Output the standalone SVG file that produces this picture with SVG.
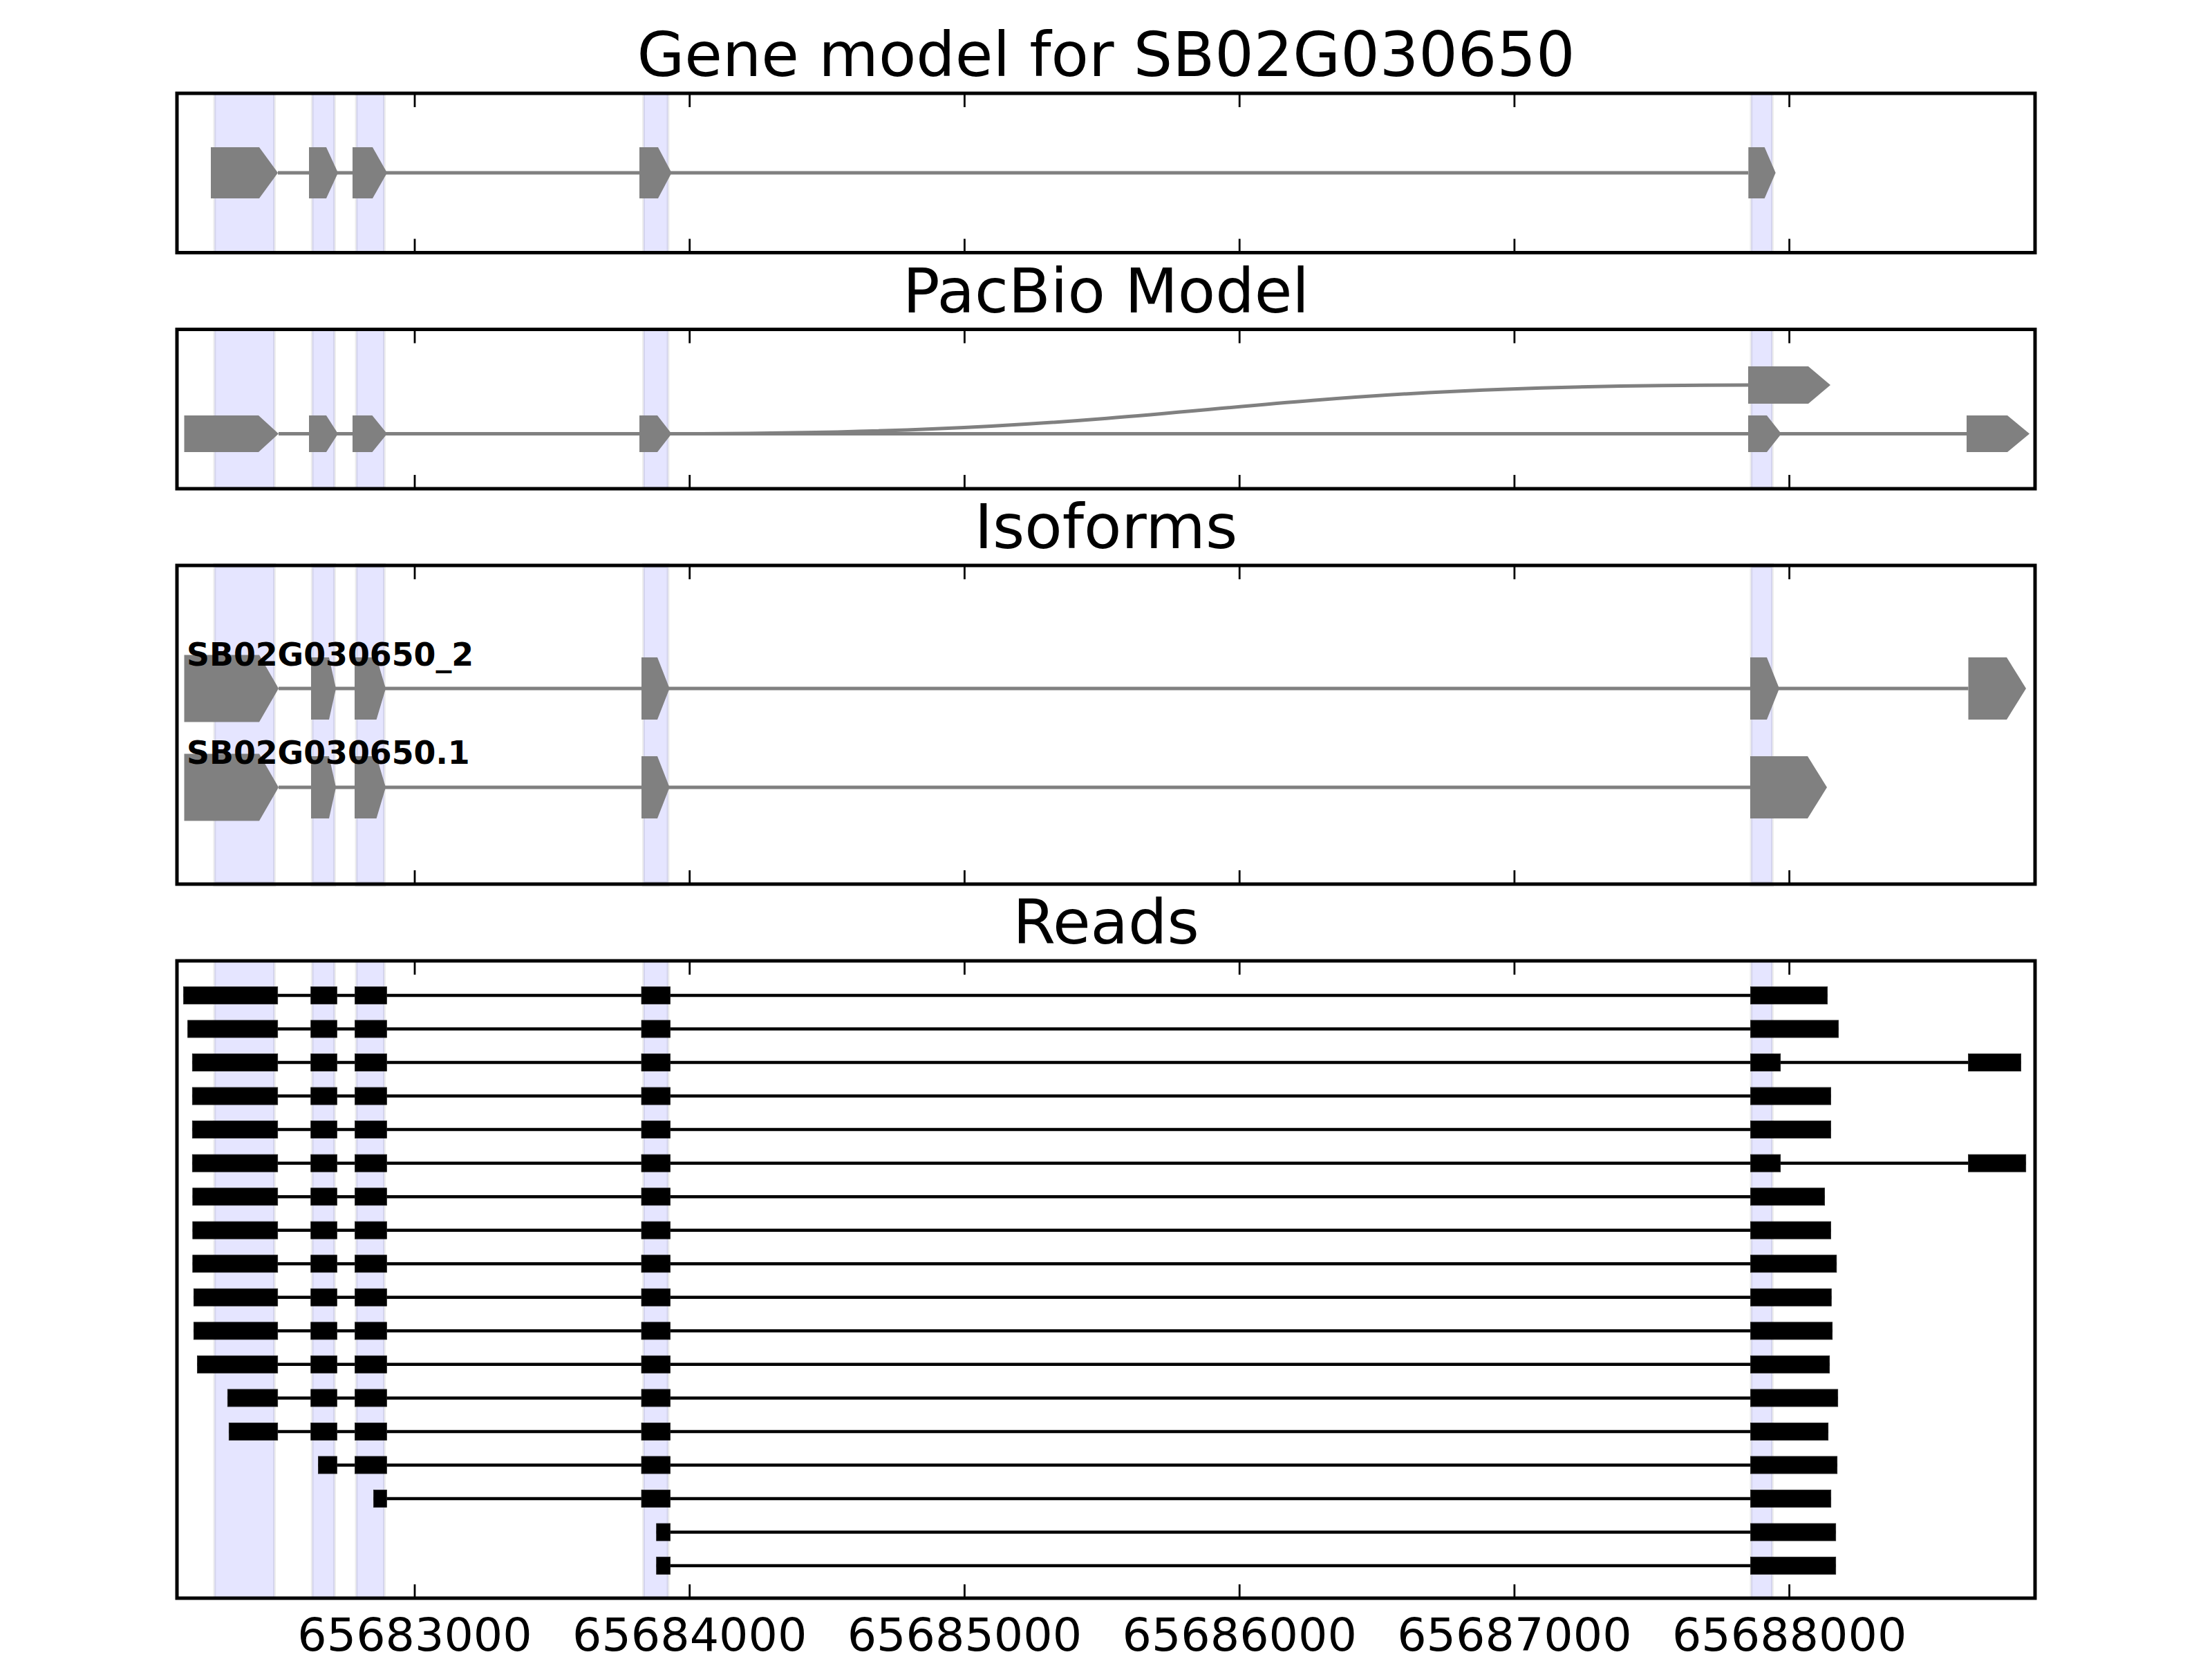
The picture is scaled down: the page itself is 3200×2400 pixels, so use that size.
<svg xmlns="http://www.w3.org/2000/svg" width="3200" height="2400" viewBox="0 0 3200 2400">
<style>
.bg{fill:#ffffff}
.band{fill:#e5e5ff;stroke:#000000;stroke-opacity:0.07;stroke-width:4}
.exon{fill:#808080;stroke:none}
.intron{stroke:#808080;stroke-width:5;fill:none}
.rb{fill:#000000;stroke:#222;stroke-width:0.8}
.rl{stroke:#000000;stroke-width:4.5;fill:none}
.frame{fill:none;stroke:#000000;stroke-width:5}
.tick{stroke:#000000;stroke-width:2.8}
.title{font-family:"DejaVu Sans","Liberation Sans",sans-serif;font-size:88.9px;text-anchor:middle;fill:#000}
.tl{font-family:"DejaVu Sans","Liberation Sans",sans-serif;font-size:66.7px;text-anchor:middle;fill:#000}
.iso{font-family:"DejaVu Sans","Liberation Sans",sans-serif;font-size:45.8px;font-weight:bold;fill:#000}
</style>
<defs>
<g id="bandsP1">
<rect class="band" x="310.4" y="135" width="86.6" height="230.5"/>
<rect class="band" x="451.7" y="135" width="32.3" height="230.5"/>
<rect class="band" x="515.5" y="135" width="40.5" height="230.5"/>
<rect class="band" x="931" y="135" width="35.5" height="230.5"/>
<rect class="band" x="2533.3" y="135" width="30.7" height="230.5"/>
</g>
<g id="ticksV">
<line x1="600" y1="0" x2="600" y2="20"/>
<line x1="997.7" y1="0" x2="997.7" y2="20"/>
<line x1="1395.4" y1="0" x2="1395.4" y2="20"/>
<line x1="1793.2" y1="0" x2="1793.2" y2="20"/>
<line x1="2190.9" y1="0" x2="2190.9" y2="20"/>
<line x1="2588.6" y1="0" x2="2588.6" y2="20"/>
</g>
</defs>
<rect class="bg" x="0" y="0" width="3200" height="2400"/>

<!-- Panel 1: Gene model -->
<g id="panel-gene-model">
<text class="title" x="1600" y="110">Gene model for SB02G030650</text>
<use href="#bandsP1"/>
<g id="gene-model-connectors">
<line class="intron" x1="402" y1="250" x2="2529" y2="250"/>
</g>
<g id="gene-model-exons">
<polygon class="exon" points="305,213 375,213 402,250 375,287 305,287"/>
<polygon class="exon" points="447,213 472,213 489,250 472,287 447,287"/>
<polygon class="exon" points="510,213 539,213 560,250 539,287 510,287"/>
<polygon class="exon" points="925,213 952,213 971.6,250 952,287 925,287"/>
<polygon class="exon" points="2529.3,213 2552.7,213 2568.7,250 2552.7,287 2529.3,287"/>
</g>
<rect class="frame" x="256" y="135" width="2688" height="230.5"/>
<g class="tick" transform="translate(0,135)"><use href="#ticksV"/></g>
<g class="tick" transform="translate(0,365.5) scale(1,-1)"><use href="#ticksV"/></g>
</g>

<!-- Panel 2: PacBio Model -->
<g id="panel-pacbio">
<text class="title" x="1600" y="452">PacBio Model</text>
<g transform="translate(0,341.5)"><use href="#bandsP1"/></g>
<g id="pacbio-connectors">
<line class="intron" x1="403" y1="627.5" x2="2845" y2="627.5"/>
<path class="intron" d="M971.6,627.5 C1750,627.5 1750,557 2529,557"/>
</g>
<g id="pacbio-exons">
<polygon class="exon" points="266.5,601 374,601 403,627.5 374,654 266.5,654"/>
<polygon class="exon" points="447,601 472,601 489,627.5 472,654 447,654"/>
<polygon class="exon" points="510,601 538.5,601 560,627.5 538.5,654 510,654"/>
<polygon class="exon" points="925,601 951,601 971.6,627.5 951,654 925,654"/>
<polygon class="exon" points="2529,601 2556,601 2577,627.5 2556,654 2529,654"/>
<polygon class="exon" points="2845,601 2904,601 2936,627.5 2904,654 2845,654"/>
<polygon class="exon" points="2529,530 2616,530 2648,557 2616,584 2529,584"/>
</g>
<rect class="frame" x="256" y="476.5" width="2688" height="230.5"/>
<g class="tick" transform="translate(0,476.5)"><use href="#ticksV"/></g>
<g class="tick" transform="translate(0,707) scale(1,-1)"><use href="#ticksV"/></g>
</g>

<!-- Panel 3: Isoforms -->
<g id="panel-isoforms">
<text class="title" x="1600" y="793">Isoforms</text>
<g transform="translate(0,818) scale(1,2) translate(0,-135)"><use href="#bandsP1"/></g>
<g id="isoform-connectors">
<line class="intron" x1="403" y1="996" x2="2847.5" y2="996"/>
<line class="intron" x1="403" y1="1139" x2="2532" y2="1139"/>
</g>
<g id="isoform-SB02G030650_2">
<polygon class="exon" points="266.5,947.5 375,947.5 403,996 375,1044.5 266.5,1044.5"/>
<polygon class="exon" points="450,951 476,951 486,996 476,1041 450,1041"/>
<polygon class="exon" points="513,951 544.6,951 558,996 544.6,1041 513,1041"/>
<polygon class="exon" points="928,951 951,951 968.6,996 951,1041 928,1041"/>
<polygon class="exon" points="2532,951 2556,951 2574,996 2556,1041 2532,1041"/>
<polygon class="exon" points="2847.5,951 2903,951 2931,996 2903,1041 2847.5,1041"/>
<text class="iso" x="270" y="963">SB02G030650_2</text>
</g>
<g id="isoform-SB02G030650.1">
<polygon class="exon" points="266.5,1090.5 375,1090.5 403,1139 375,1187.5 266.5,1187.5"/>
<polygon class="exon" points="450,1094 476,1094 486,1139 476,1184 450,1184"/>
<polygon class="exon" points="513,1094 544.6,1094 558,1139 544.6,1184 513,1184"/>
<polygon class="exon" points="928,1094 951,1094 968.6,1139 951,1184 928,1184"/>
<polygon class="exon" points="2532,1094 2615,1094 2643,1139 2615,1184 2532,1184"/>
<text class="iso" x="270" y="1105">SB02G030650.1</text>
</g>
<rect class="frame" x="256" y="818" width="2688" height="461"/>
<g class="tick" transform="translate(0,818)"><use href="#ticksV"/></g>
<g class="tick" transform="translate(0,1279) scale(1,-1)"><use href="#ticksV"/></g>
</g>

<!-- Panel 4: Reads -->
<g id="panel-reads">
<text class="title" x="1600" y="1365">Reads</text>
<g id="reads-bands">
<rect class="band" x="310.4" y="1390" width="86.6" height="922"/>
<rect class="band" x="451.7" y="1390" width="32.3" height="922"/>
<rect class="band" x="515.5" y="1390" width="40.5" height="922"/>
<rect class="band" x="931" y="1390" width="35.5" height="922"/>
<rect class="band" x="2533.3" y="1390" width="30.7" height="922"/>
</g>
<g id="reads-connectors">
<line class="rl" x1="265.5" y1="1440" x2="2643.6" y2="1440"/>
<line class="rl" x1="271.6" y1="1488.5" x2="2659.6" y2="1488.5"/>
<line class="rl" x1="278.3" y1="1537.1" x2="2923.6" y2="1537.1"/>
<line class="rl" x1="278.3" y1="1585.6" x2="2648.6" y2="1585.6"/>
<line class="rl" x1="278.3" y1="1634.1" x2="2648.6" y2="1634.1"/>
<line class="rl" x1="278.3" y1="1682.7" x2="2930.7" y2="1682.7"/>
<line class="rl" x1="278.8" y1="1731.2" x2="2639.6" y2="1731.2"/>
<line class="rl" x1="278.8" y1="1779.7" x2="2648.6" y2="1779.7"/>
<line class="rl" x1="278.8" y1="1828.2" x2="2656.8" y2="1828.2"/>
<line class="rl" x1="280.3" y1="1876.8" x2="2649.3" y2="1876.8"/>
<line class="rl" x1="280.3" y1="1925.3" x2="2650.7" y2="1925.3"/>
<line class="rl" x1="285.4" y1="1973.8" x2="2646.7" y2="1973.8"/>
<line class="rl" x1="329.3" y1="2022.4" x2="2658.7" y2="2022.4"/>
<line class="rl" x1="331.3" y1="2070.9" x2="2644.7" y2="2070.9"/>
<line class="rl" x1="460.4" y1="2119.4" x2="2657.7" y2="2119.4"/>
<line class="rl" x1="540.5" y1="2168" x2="2648.7" y2="2168"/>
<line class="rl" x1="949.7" y1="2216.5" x2="2655.7" y2="2216.5"/>
<line class="rl" x1="949.7" y1="2265" x2="2655.7" y2="2265"/>
</g>
<g id="read-1" transform="translate(0,1427.5)">
<rect class="rb" x="265.5" y="0" width="136.2" height="25"/><rect class="rb" x="449.7" y="0" width="37.7" height="25"/><rect class="rb" x="513.5" y="0" width="45.9" height="25"/><rect class="rb" x="928" y="0" width="41.6" height="25"/><rect class="rb" x="2532.5" y="0" width="111.1" height="25"/>
</g>
<g id="read-2" transform="translate(0,1476)">
<rect class="rb" x="271.6" y="0" width="130.1" height="25"/><rect class="rb" x="449.7" y="0" width="37.7" height="25"/><rect class="rb" x="513.5" y="0" width="45.9" height="25"/><rect class="rb" x="928" y="0" width="41.6" height="25"/><rect class="rb" x="2532.5" y="0" width="127.1" height="25"/>
</g>
<g id="read-3" transform="translate(0,1524.6)">
<rect class="rb" x="278.3" y="0" width="123.4" height="25"/><rect class="rb" x="449.7" y="0" width="37.7" height="25"/><rect class="rb" x="513.5" y="0" width="45.9" height="25"/><rect class="rb" x="928" y="0" width="41.6" height="25"/><rect class="rb" x="2532.5" y="0" width="43.2" height="25"/><rect class="rb" x="2847.5" y="0" width="76.1" height="25"/>
</g>
<g id="read-4" transform="translate(0,1573.1)">
<rect class="rb" x="278.3" y="0" width="123.4" height="25"/><rect class="rb" x="449.7" y="0" width="37.7" height="25"/><rect class="rb" x="513.5" y="0" width="45.9" height="25"/><rect class="rb" x="928" y="0" width="41.6" height="25"/><rect class="rb" x="2532.5" y="0" width="116.1" height="25"/>
</g>
<g id="read-5" transform="translate(0,1621.6)">
<rect class="rb" x="278.3" y="0" width="123.4" height="25"/><rect class="rb" x="449.7" y="0" width="37.7" height="25"/><rect class="rb" x="513.5" y="0" width="45.9" height="25"/><rect class="rb" x="928" y="0" width="41.6" height="25"/><rect class="rb" x="2532.5" y="0" width="116.1" height="25"/>
</g>
<g id="read-6" transform="translate(0,1670.2)">
<rect class="rb" x="278.3" y="0" width="123.4" height="25"/><rect class="rb" x="449.7" y="0" width="37.7" height="25"/><rect class="rb" x="513.5" y="0" width="45.9" height="25"/><rect class="rb" x="928" y="0" width="41.6" height="25"/><rect class="rb" x="2532.5" y="0" width="43.2" height="25"/><rect class="rb" x="2847.5" y="0" width="83.2" height="25"/>
</g>
<g id="read-7" transform="translate(0,1718.7)">
<rect class="rb" x="278.8" y="0" width="122.9" height="25"/><rect class="rb" x="449.7" y="0" width="37.7" height="25"/><rect class="rb" x="513.5" y="0" width="45.9" height="25"/><rect class="rb" x="928" y="0" width="41.6" height="25"/><rect class="rb" x="2532.5" y="0" width="107.1" height="25"/>
</g>
<g id="read-8" transform="translate(0,1767.2)">
<rect class="rb" x="278.8" y="0" width="122.9" height="25"/><rect class="rb" x="449.7" y="0" width="37.7" height="25"/><rect class="rb" x="513.5" y="0" width="45.9" height="25"/><rect class="rb" x="928" y="0" width="41.6" height="25"/><rect class="rb" x="2532.5" y="0" width="116.1" height="25"/>
</g>
<g id="read-9" transform="translate(0,1815.7)">
<rect class="rb" x="278.8" y="0" width="122.9" height="25"/><rect class="rb" x="449.7" y="0" width="37.7" height="25"/><rect class="rb" x="513.5" y="0" width="45.9" height="25"/><rect class="rb" x="928" y="0" width="41.6" height="25"/><rect class="rb" x="2532.5" y="0" width="124.3" height="25"/>
</g>
<g id="read-10" transform="translate(0,1864.3)">
<rect class="rb" x="280.3" y="0" width="121.4" height="25"/><rect class="rb" x="449.7" y="0" width="37.7" height="25"/><rect class="rb" x="513.5" y="0" width="45.9" height="25"/><rect class="rb" x="928" y="0" width="41.6" height="25"/><rect class="rb" x="2532.5" y="0" width="116.8" height="25"/>
</g>
<g id="read-11" transform="translate(0,1912.8)">
<rect class="rb" x="280.3" y="0" width="121.4" height="25"/><rect class="rb" x="449.7" y="0" width="37.7" height="25"/><rect class="rb" x="513.5" y="0" width="45.9" height="25"/><rect class="rb" x="928" y="0" width="41.6" height="25"/><rect class="rb" x="2532.5" y="0" width="118.2" height="25"/>
</g>
<g id="read-12" transform="translate(0,1961.3)">
<rect class="rb" x="285.4" y="0" width="116.3" height="25"/><rect class="rb" x="449.7" y="0" width="37.7" height="25"/><rect class="rb" x="513.5" y="0" width="45.9" height="25"/><rect class="rb" x="928" y="0" width="41.6" height="25"/><rect class="rb" x="2532.5" y="0" width="114.2" height="25"/>
</g>
<g id="read-13" transform="translate(0,2009.9)">
<rect class="rb" x="329.3" y="0" width="72.4" height="25"/><rect class="rb" x="449.7" y="0" width="37.7" height="25"/><rect class="rb" x="513.5" y="0" width="45.9" height="25"/><rect class="rb" x="928" y="0" width="41.6" height="25"/><rect class="rb" x="2532.5" y="0" width="126.2" height="25"/>
</g>
<g id="read-14" transform="translate(0,2058.4)">
<rect class="rb" x="331.3" y="0" width="70.4" height="25"/><rect class="rb" x="449.7" y="0" width="37.7" height="25"/><rect class="rb" x="513.5" y="0" width="45.9" height="25"/><rect class="rb" x="928" y="0" width="41.6" height="25"/><rect class="rb" x="2532.5" y="0" width="112.2" height="25"/>
</g>
<g id="read-15" transform="translate(0,2106.9)">
<rect class="rb" x="460.4" y="0" width="27" height="25"/><rect class="rb" x="513.5" y="0" width="45.9" height="25"/><rect class="rb" x="928" y="0" width="41.6" height="25"/><rect class="rb" x="2532.5" y="0" width="125.2" height="25"/>
</g>
<g id="read-16" transform="translate(0,2155.5)">
<rect class="rb" x="540.5" y="0" width="18.9" height="25"/><rect class="rb" x="928" y="0" width="41.6" height="25"/><rect class="rb" x="2532.5" y="0" width="116.2" height="25"/>
</g>
<g id="read-17" transform="translate(0,2204)">
<rect class="rb" x="949.7" y="0" width="19.9" height="25"/><rect class="rb" x="2532.5" y="0" width="123.2" height="25"/>
</g>
<g id="read-18" transform="translate(0,2252.5)">
<rect class="rb" x="949.7" y="0" width="19.9" height="25"/><rect class="rb" x="2532.5" y="0" width="123.2" height="25"/>
</g>
<rect class="frame" x="256" y="1390" width="2688" height="922"/>
<g class="tick" transform="translate(0,1390)"><use href="#ticksV"/></g>
<g class="tick" transform="translate(0,2312) scale(1,-1)"><use href="#ticksV"/></g>
<g id="tick-labels">
<text class="tl" x="600" y="2388">65683000</text>
<text class="tl" x="997.7" y="2388">65684000</text>
<text class="tl" x="1395.4" y="2388">65685000</text>
<text class="tl" x="1793.2" y="2388">65686000</text>
<text class="tl" x="2190.9" y="2388">65687000</text>
<text class="tl" x="2588.6" y="2388">65688000</text>
</g>
</g>
</svg>
